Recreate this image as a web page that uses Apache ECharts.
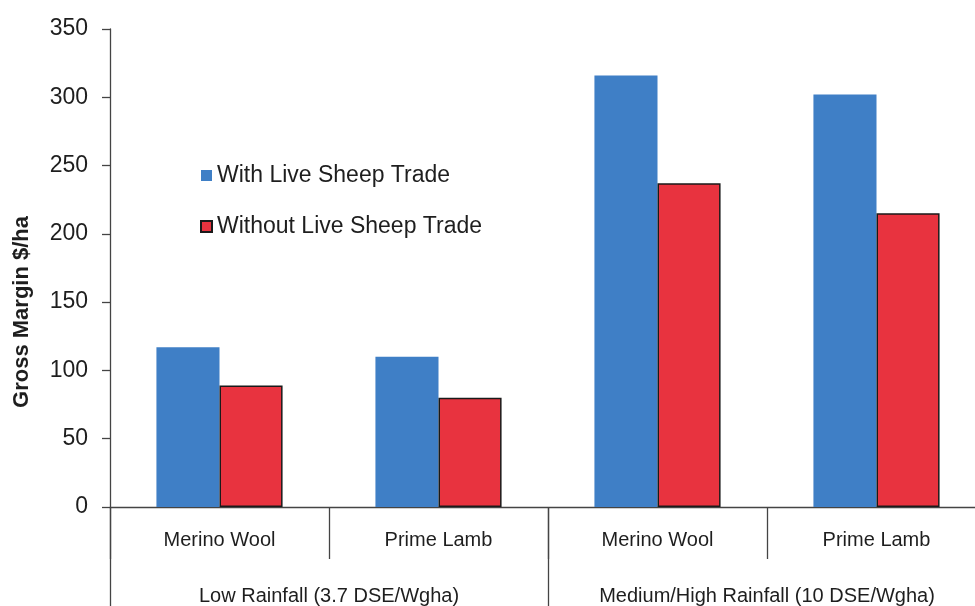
<!DOCTYPE html>
<html>
<head>
<meta charset="utf-8">
<title>Gross Margin $/ha</title>
<script src="https://cdn.jsdelivr.net/npm/echarts@6/dist/echarts.min.js"></script>
<style>
  html, body { margin: 0; padding: 0; background: #fff; }
  #chart { width: 975px; height: 606px; }
</style>
</head>
<body>
<div id="chart"></div>
<script>
// Enterprise types within each rainfall zone
const enterprises = ['Merino Wool', 'Prime Lamb', 'Merino Wool', 'Prime Lamb'];
// Rainfall zones (each spans two enterprises)
const zones = ['Low Rainfall (3.7 DSE/Wgha)', 'Medium/High Rainfall (10 DSE/Wgha)'];
// Gross margin, $/ha
const withTrade = [117, 110, 316, 302];
const withoutTrade = [89, 80, 237, 215];
const yTicks = { min: 0, max: 350, step: 50 };

const FONT = '"Liberation Sans", Arial, sans-serif';
const TEXT = '#1e1e1e';
const AXIS = '#444';

const chart = echarts.init(document.getElementById('chart'), null, { renderer: 'canvas' });

chart.setOption({
  animation: false,
  backgroundColor: '#ffffff',
  textStyle: { fontFamily: FONT },
  // the plot runs a little past the right edge of the canvas
  grid: { left: 110, top: 29, width: 876, height: 478, containLabel: false, outerBoundsMode: 'none' },
  legend: {
    orient: 'vertical',
    left: 195,
    top: 159,
    itemGap: 28,
    itemWidth: 11,
    itemHeight: 11,
    icon: 'rect',
    textStyle: { fontFamily: FONT, fontSize: 23, color: TEXT }
  },
  xAxis: [
    {
      type: 'category',
      data: enterprises,
      axisLine: { show: true, lineStyle: { color: AXIS, width: 1.3 } },
      axisTick: { show: true, length: 52, lineStyle: { color: AXIS, width: 1.3 } },
      axisLabel: { margin: 23, fontFamily: FONT, fontSize: 20, color: TEXT }
    },
    {
      type: 'category',
      data: zones,
      position: 'bottom',
      axisLine: { show: false },
      axisTick: { show: true, length: 100, lineStyle: { color: AXIS, width: 1.3 } },
      axisLabel: { margin: 79, fontFamily: FONT, fontSize: 20, color: TEXT }
    }
  ],
  yAxis: {
    type: 'value',
    min: yTicks.min,
    max: yTicks.max,
    interval: yTicks.step,
    axisLine: { show: true, lineStyle: { color: AXIS, width: 1.3 } },
    axisTick: { show: true, length: 8, lineStyle: { color: AXIS, width: 1.3 } },
    splitLine: { show: false },
    axisLabel: { margin: 22, fontFamily: FONT, fontSize: 23, color: TEXT }
  },
  series: [
    {
      name: 'With Live Sheep Trade',
      type: 'bar',
      xAxisIndex: 0,
      data: withTrade,
      barWidth: '28.8%',
      barGap: '0%',
      itemStyle: { color: '#3f7fc6' }
    },
    {
      name: 'Without Live Sheep Trade',
      type: 'bar',
      xAxisIndex: 0,
      data: withoutTrade,
      barWidth: '28.8%',
      barGap: '0%',
      itemStyle: { color: '#e8333f', borderColor: '#1a1a1a', borderWidth: 1.5 }
    }
  ],
  graphic: [
    {
      type: 'text',
      left: 11,
      top: 216,
      rotation: Math.PI / 2,
      style: {
        text: 'Gross Margin $/ha',
        font: 'bold 22px ' + FONT,
        fill: TEXT
      }
    }
  ]
});
</script>
</body>
</html>
